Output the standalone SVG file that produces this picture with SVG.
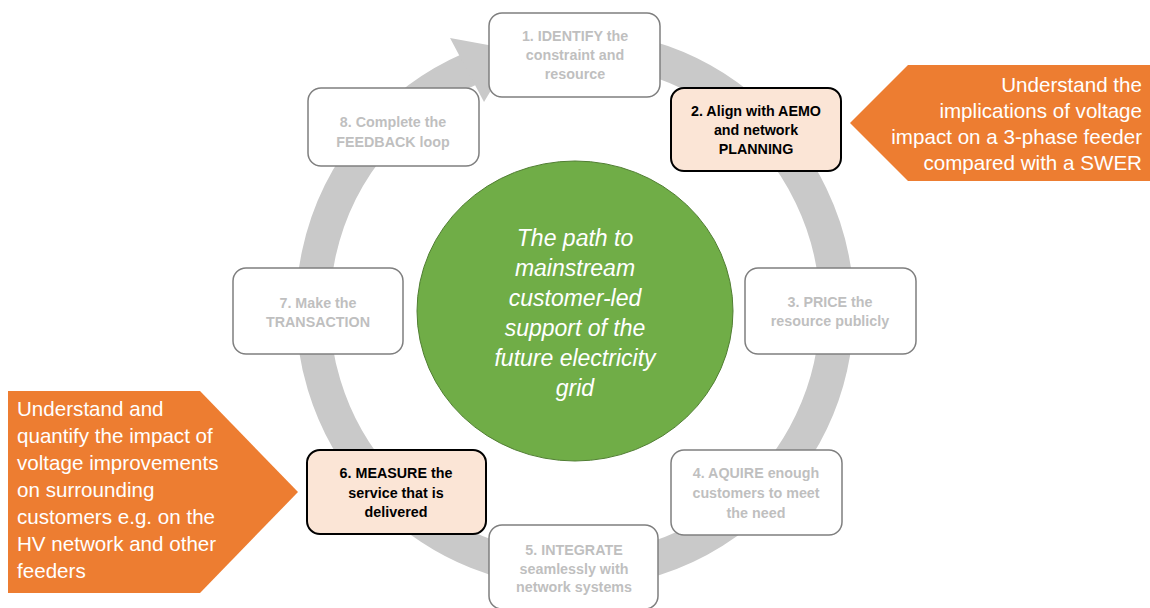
<svg xmlns="http://www.w3.org/2000/svg" width="1150" height="608" viewBox="0 0 1150 608">
<style>
.box{fill:#ffffff;stroke:#7f7f7f;stroke-width:1.5}
.hl{fill:#fbe5d6;stroke:#000000;stroke-width:2}
.t{font-family:"Liberation Sans",Arial,sans-serif;font-weight:bold;font-size:14.3px;text-anchor:middle;fill:#bfbfbf}
.tb{font-family:"Liberation Sans",Arial,sans-serif;font-weight:bold;font-size:14.3px;text-anchor:middle;fill:#000000}
.co{fill:#ed7d31}
.ct{font-family:"Liberation Sans",Arial,sans-serif;font-size:20.6px;fill:#ffffff}
.cen{font-family:"Liberation Sans",Arial,sans-serif;font-style:italic;font-size:23px;text-anchor:middle;fill:#ffffff}
</style>
<rect width="1150" height="608" fill="#ffffff"/>
<g id="connectors">
<path d="M620,51 A262,262 0 1 1 470,69" fill="none" stroke="#c9c9c9" stroke-width="34"/>
<polygon points="450,38 515,50 484,102" fill="#c9c9c9"/>
</g>
<g id="center">
<ellipse cx="575" cy="311" rx="158" ry="150" fill="#70ad47" stroke="#507e32" stroke-width="1"/>
<text class="cen" x="575" y="246">The path to</text>
<text class="cen" x="575" y="276">mainstream</text>
<text class="cen" x="575" y="306">customer-led</text>
<text class="cen" x="575" y="336">support of the</text>
<text class="cen" x="575" y="366">future electricity</text>
<text class="cen" x="575" y="396">grid</text>
</g>
<g id="node1">
<rect class="box" x="489" y="13" width="171" height="84" rx="13"/>
<text class="t" x="575" y="41">1. IDENTIFY the</text>
<text class="t" x="575" y="60">constraint and</text>
<text class="t" x="575" y="79">resource</text>
</g>
<g id="node2">
<rect class="hl" x="671" y="88" width="170" height="83" rx="13"/>
<text class="tb" x="756" y="116">2. Align with AEMO</text>
<text class="tb" x="756" y="135">and network</text>
<text class="tb" x="756" y="154">PLANNING</text>
</g>
<g id="node3">
<rect class="box" x="745" y="268" width="171" height="86" rx="13"/>
<text class="t" x="830" y="307">3. PRICE the</text>
<text class="t" x="830" y="326">resource publicly</text>
</g>
<g id="node4">
<rect class="box" x="671" y="450" width="171" height="85" rx="13"/>
<text class="t" x="756" y="478">4.  AQUIRE enough</text>
<text class="t" x="756" y="498">customers to meet</text>
<text class="t" x="756" y="518">the need</text>
</g>
<g id="node5">
<rect class="box" x="489" y="525" width="169" height="84" rx="13"/>
<text class="t" x="574" y="555">5. INTEGRATE</text>
<text class="t" x="574" y="574">seamlessly with</text>
<text class="t" x="574" y="592">network systems</text>
</g>
<g id="node6">
<rect class="hl" x="307" y="450" width="179" height="84" rx="13"/>
<text class="tb" x="396" y="478">6. MEASURE the</text>
<text class="tb" x="396" y="498">service that is</text>
<text class="tb" x="396" y="517">delivered</text>
</g>
<g id="node7">
<rect class="box" x="233" y="268" width="170" height="86" rx="13"/>
<text class="t" x="318" y="308">7. Make the</text>
<text class="t" x="318" y="327">TRANSACTION</text>
</g>
<g id="node8">
<rect class="box" x="308" y="88" width="171" height="78" rx="13"/>
<text class="t" x="393" y="127">8. Complete the</text>
<text class="t" x="393" y="147">FEEDBACK loop</text>
</g>
<g id="callout-right">
<polygon class="co" points="850,123 908,65 1150,65 1150,181 908,181"/>
<text class="ct" x="1142" y="92" text-anchor="end">Understand the</text>
<text class="ct" x="1142" y="118" text-anchor="end">implications of voltage</text>
<text class="ct" x="1142" y="144" text-anchor="end">impact on a 3-phase feeder</text>
<text class="ct" x="1142" y="170" text-anchor="end">compared with a SWER</text>
</g>
<g id="callout-left">
<polygon class="co" points="8,391 200,391 298,492 200,593 8,593"/>
<text class="ct" x="17" y="416">Understand and</text>
<text class="ct" x="17" y="443">quantify the impact of</text>
<text class="ct" x="17" y="470">voltage improvements</text>
<text class="ct" x="17" y="497">on surrounding</text>
<text class="ct" x="17" y="524">customers e.g. on the</text>
<text class="ct" x="17" y="551">HV network and other</text>
<text class="ct" x="17" y="578">feeders</text>
</g>
</svg>
